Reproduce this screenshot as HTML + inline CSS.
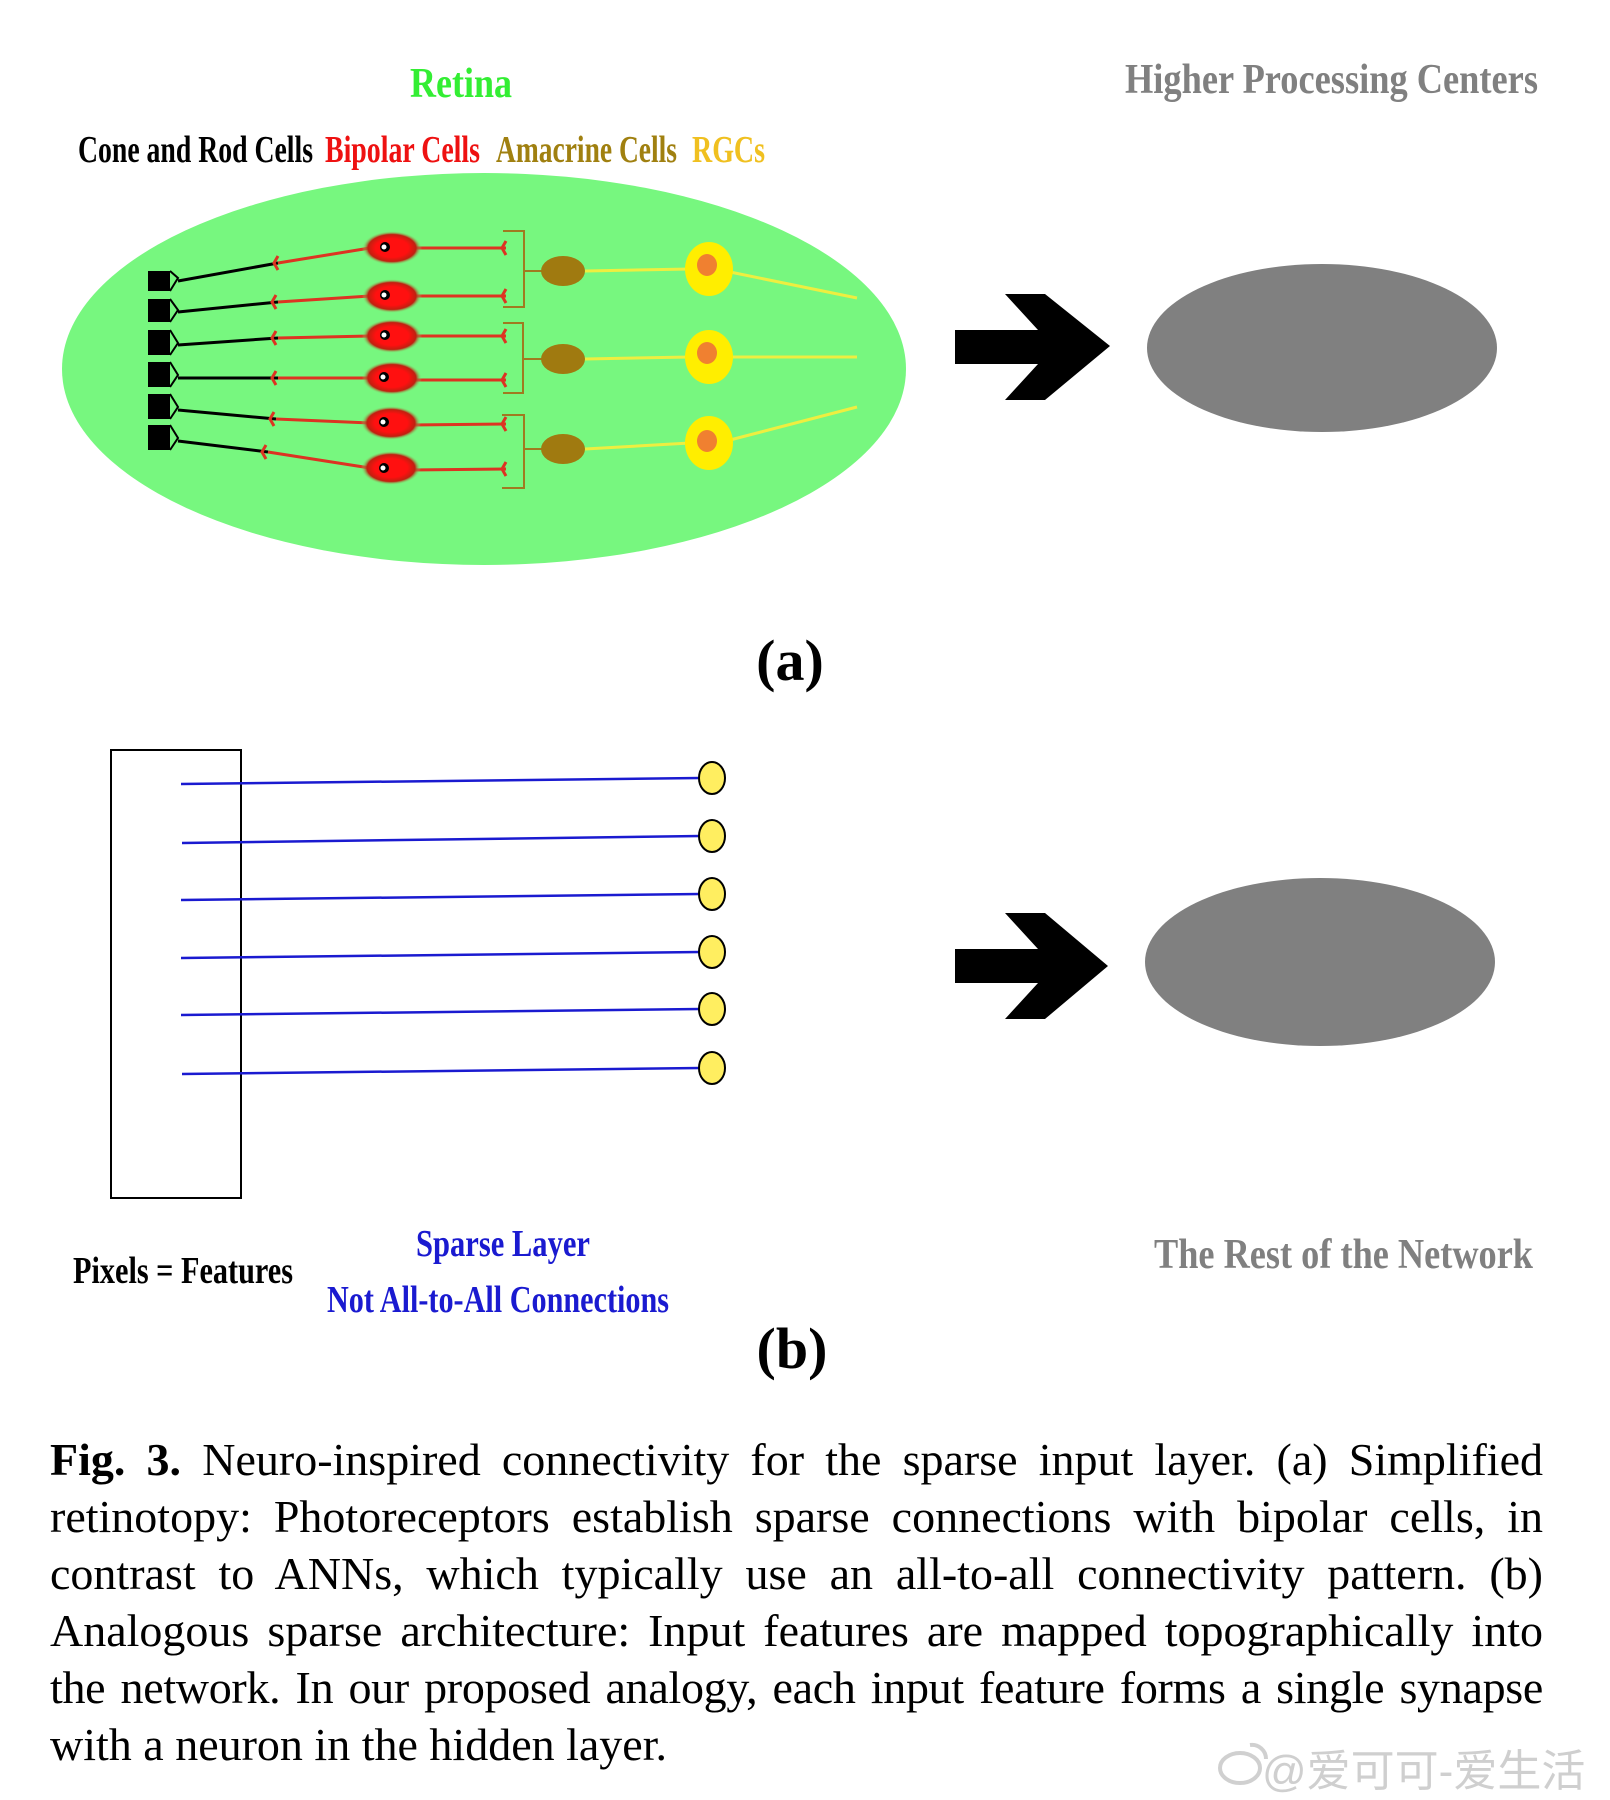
<!DOCTYPE html>
<html><head><meta charset="utf-8"><style>
html,body{margin:0;padding:0;background:#fff;}
body{width:1610px;height:1800px;position:relative;overflow:hidden;}
svg{position:absolute;left:0;top:0;}
.cap{position:absolute;left:50px;width:1493px;font-family:"Liberation Serif",serif;font-size:46px;line-height:47px;color:#000;text-align:justify;text-align-last:justify;white-space:nowrap;}
.cap.last{text-align-last:left;}
.wm{position:absolute;left:1262px;top:1735px;font-family:"Liberation Sans","Noto Sans CJK SC",sans-serif;font-size:44px;color:#cfcfcf;}
</style></head><body>
<svg width="1610" height="1800" viewBox="0 0 1610 1800">
<defs>
<radialGradient id="bip"><stop offset="0.55" stop-color="#ff1010"/><stop offset="0.8" stop-color="#c02010"/><stop offset="1" stop-color="#77f77f" stop-opacity="0"/></radialGradient>
</defs>
<g font-family="Liberation Serif, serif" font-weight="bold">
<text x="461" y="97" font-size="42" fill="#33ee33" text-anchor="middle" textLength="102" lengthAdjust="spacingAndGlyphs">Retina</text>
<text x="1125" y="93" font-size="42" fill="#808080" textLength="413" lengthAdjust="spacingAndGlyphs">Higher Processing Centers</text>
<text x="78" y="162" font-size="38" fill="#000" textLength="235" lengthAdjust="spacingAndGlyphs">Cone and Rod Cells</text>
<text x="325" y="162" font-size="38" fill="#ee1111" textLength="155" lengthAdjust="spacingAndGlyphs">Bipolar Cells</text>
<text x="496" y="162" font-size="38" fill="#a08010" textLength="181" lengthAdjust="spacingAndGlyphs">Amacrine Cells</text>
<text x="692" y="162" font-size="38" fill="#f0c020" textLength="73" lengthAdjust="spacingAndGlyphs">RGCs</text>
</g>
<ellipse cx="484" cy="369" rx="422" ry="196" fill="#77f77f"/>
<g fill="#000">
<rect x="148" y="271" width="22" height="20"/><rect x="148" y="299" width="22" height="23"/>
<rect x="148" y="330" width="22" height="25"/><rect x="148" y="362" width="22" height="25"/>
<rect x="148" y="394" width="22" height="25"/><rect x="148" y="425" width="22" height="25"/>
</g>
<g stroke="#000" stroke-width="2" fill="none">
<path d="M170 271 L178 278 L170 291"/><path d="M170 299 L178 310 L170 322"/>
<path d="M170 330 L178 343 L170 355"/><path d="M170 362 L178 375 L170 387"/>
<path d="M170 394 L178 407 L170 419"/><path d="M170 425 L178 438 L170 450"/>
</g>
<g stroke="#000" stroke-width="3">
<line x1="178" y1="281" x2="278" y2="263"/><line x1="178" y1="312" x2="278" y2="302"/>
<line x1="178" y1="345" x2="278" y2="338"/><line x1="178" y1="378" x2="278" y2="378"/>
<line x1="178" y1="410" x2="276" y2="419"/><line x1="178" y1="441" x2="268" y2="452"/>
</g>
<g stroke="#dd3322" stroke-width="3">
<line x1="278" y1="263" x2="370" y2="248"/><line x1="278" y1="302" x2="370" y2="296"/>
<line x1="278" y1="338" x2="370" y2="336"/><line x1="278" y1="378" x2="370" y2="378"/>
<line x1="276" y1="419" x2="370" y2="423"/><line x1="268" y1="452" x2="370" y2="468"/>
<line x1="410" y1="248" x2="506" y2="248"/><line x1="410" y1="296" x2="506" y2="296"/>
<line x1="410" y1="336" x2="506" y2="336"/><line x1="410" y1="380" x2="506" y2="380"/>
<line x1="410" y1="425" x2="506" y2="424"/><line x1="410" y1="470" x2="506" y2="469"/>
<path d="M278 256 L274 263 L278 270 M276 295 L272 302 L276 309 M276 331 L272 338 L276 345 M276 371 L272 378 L276 385 M274 412 L270 419 L274 426 M266 445 L262 452 L266 459" fill="none"/>
<path d="M506 241 L502 248 L506 255 M506 289 L502 296 L506 303 M506 329 L502 336 L506 343 M506 373 L502 380 L506 387 M506 417 L502 424 L506 431 M506 462 L502 469 L506 476" fill="none"/>
</g>
<g fill="url(#bip)">
<ellipse cx="392" cy="248" rx="30" ry="17"/><ellipse cx="392" cy="296" rx="30" ry="17"/>
<ellipse cx="392" cy="336" rx="30" ry="17"/><ellipse cx="392" cy="378" rx="30" ry="17"/>
<ellipse cx="391" cy="423" rx="30" ry="17"/><ellipse cx="391" cy="468" rx="30" ry="17"/>
</g>
<g fill="#000"><circle cx="385" cy="247" r="5"/><circle cx="385" cy="295" r="5"/><circle cx="385" cy="335" r="5"/><circle cx="384" cy="377" r="5"/><circle cx="384" cy="422" r="5"/><circle cx="384" cy="468" r="5"/></g>
<g fill="#fff"><circle cx="384" cy="247" r="2.5"/><circle cx="384" cy="295" r="2.5"/><circle cx="384" cy="335" r="2.5"/><circle cx="383" cy="377" r="2.5"/><circle cx="383" cy="422" r="2.5"/><circle cx="383" cy="468" r="2.5"/></g>
<g stroke="#a07a20" stroke-width="2" fill="none">
<path d="M503 231 H524 V307 H503"/><path d="M503 323 H523 V393 H503"/><path d="M502 415 H524 V488 H502"/>
<line x1="524" y1="271" x2="545" y2="271"/><line x1="523" y1="359" x2="545" y2="359"/><line x1="524" y1="449" x2="545" y2="449"/>
</g>
<g stroke="#eeee40" stroke-width="3">
<line x1="585" y1="271" x2="690" y2="269"/><line x1="585" y1="359" x2="690" y2="357"/><line x1="585" y1="449" x2="690" y2="443"/>
<line x1="730" y1="272" x2="857" y2="298"/><line x1="730" y1="357" x2="857" y2="357"/><line x1="730" y1="440" x2="857" y2="407"/>
</g>
<g fill="#a07a10"><ellipse cx="563" cy="271" rx="22" ry="15"/><ellipse cx="563" cy="359" rx="22" ry="15"/><ellipse cx="563" cy="449" rx="22" ry="15"/></g>
<g fill="#ffee00"><ellipse cx="709" cy="269" rx="24" ry="27"/><ellipse cx="709" cy="357" rx="24" ry="27"/><ellipse cx="709" cy="443" rx="24" ry="27"/></g>
<g fill="#f08030"><ellipse cx="707" cy="265" rx="10" ry="11"/><ellipse cx="707" cy="353" rx="10" ry="11"/><ellipse cx="707" cy="441" rx="10" ry="11"/></g>
<path d="M955 330 H1038 L1005 294 H1045 L1110 346 L1045 400 H1005 L1038 364 H955 Z" fill="#000"/>
<ellipse cx="1322" cy="348" rx="175" ry="84" fill="#808080"/>
<text x="790" y="680" font-family="Liberation Serif, serif" font-weight="bold" font-size="58" text-anchor="middle">(a)</text>
<rect x="111" y="750" width="130" height="448" fill="none" stroke="#000" stroke-width="2"/>
<g stroke="#1a1ad0" stroke-width="2.5">
<line x1="181" y1="784" x2="700" y2="778"/><line x1="182" y1="843" x2="700" y2="836"/>
<line x1="181" y1="900" x2="700" y2="894"/><line x1="181" y1="958" x2="700" y2="952"/>
<line x1="181" y1="1015" x2="700" y2="1009"/><line x1="182" y1="1074" x2="700" y2="1068"/>
</g>
<g fill="#ffee60" stroke="#000" stroke-width="2">
<ellipse cx="712" cy="778" rx="13" ry="16"/><ellipse cx="712" cy="836" rx="13" ry="16"/>
<ellipse cx="712" cy="894" rx="13" ry="16"/><ellipse cx="712" cy="952" rx="13" ry="16"/>
<ellipse cx="712" cy="1009" rx="13" ry="16"/><ellipse cx="712" cy="1068" rx="13" ry="16"/>
</g>
<path d="M955 949 H1038 L1005 913 H1045 L1108 966 L1045 1019 H1005 L1038 983 H955 Z" fill="#000"/>
<ellipse cx="1320" cy="962" rx="175" ry="84" fill="#808080"/>
<g font-family="Liberation Serif, serif" font-weight="bold">
<text x="73" y="1283" font-size="38" fill="#000" textLength="220" lengthAdjust="spacingAndGlyphs">Pixels = Features</text>
<text x="503" y="1256" font-size="38" fill="#1a1ad0" text-anchor="middle" textLength="174" lengthAdjust="spacingAndGlyphs">Sparse Layer</text>
<text x="327" y="1312" font-size="38" fill="#1a1ad0" textLength="342" lengthAdjust="spacingAndGlyphs">Not All-to-All Connections</text>
<text x="1154" y="1268" font-size="42" fill="#808080" textLength="379" lengthAdjust="spacingAndGlyphs">The Rest of the Network</text>
<text x="792" y="1368" font-size="58" text-anchor="middle">(b)</text>
</g>
<g fill="none" stroke="#d0d0d0" stroke-width="4"><ellipse cx="1240" cy="1768" rx="20" ry="15"/><path d="M1250 1745 a14 14 0 0 1 16 14"/></g>
</svg>
<div class="cap" style="top:1436px"><b>Fig. 3.</b> Neuro-inspired connectivity for the sparse input layer. (a) Simplified</div>
<div class="cap" style="top:1493px">retinotopy: Photoreceptors establish sparse connections with bipolar cells, in</div>
<div class="cap" style="top:1550px">contrast to ANNs, which typically use an all-to-all connectivity pattern. (b)</div>
<div class="cap" style="top:1607px">Analogous sparse architecture: Input features are mapped topographically into</div>
<div class="cap" style="top:1664px;letter-spacing:-0.3px">the network. In our proposed analogy, each input feature forms a single synapse</div>
<div class="cap last" style="top:1721px">with a neuron in the hidden layer.</div>
<div class="wm">@爱可可-爱生活</div>
</body></html>
